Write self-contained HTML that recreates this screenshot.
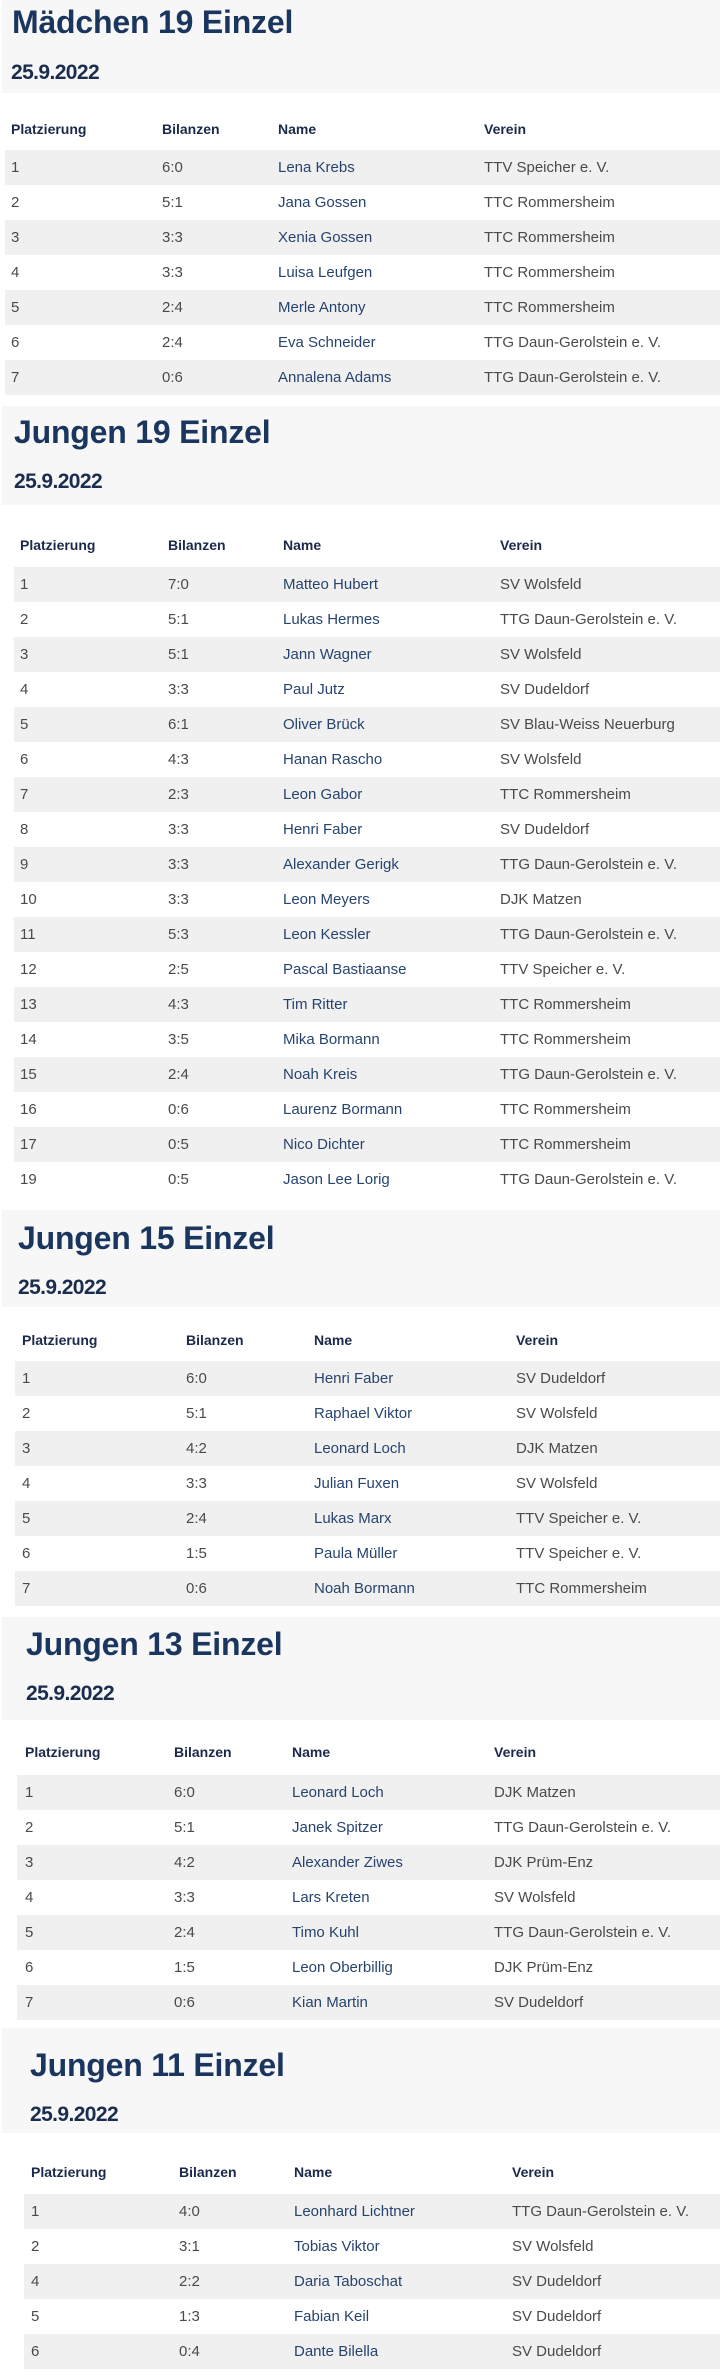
<!DOCTYPE html>
<html><head><meta charset="utf-8"><style>
*{margin:0;padding:0;box-sizing:border-box}
body{width:720px;height:2380px;background:#fff;position:relative;overflow:hidden;font-family:"Liberation Sans",sans-serif}
.box{position:absolute;left:2px;right:0;background:#f7f7f7}
.t{position:absolute;font-weight:bold;color:#1a355e;font-size:32px;line-height:40px;height:40px;letter-spacing:-0.2px;white-space:nowrap}
.d{position:absolute;font-weight:bold;color:#1a2d4f;font-size:21px;line-height:26px;height:26px;letter-spacing:-0.6px}
.r{position:absolute;right:0;height:35px;line-height:35px;font-size:15px;color:#4a4a4a;white-space:nowrap}
.r.s{background:#f0f0f0}
.r span{position:absolute;top:0}
.r .n{color:#27446f}
.h{font-weight:bold;color:#1b2a4a;font-size:14px}
.h .n{color:#1b2a4a}
</style></head><body>

<!-- S1 -->
<div class="box" style="top:0;height:93px"></div>
<div class="t" style="left:12px;top:2px">Mädchen 19 Einzel</div>
<div class="d" style="left:11px;top:60px">25.9.2022</div>
<div style="position:absolute;left:0;top:0;width:720px">
<div class="r h" style="left:5px;top:112px"><span style="left:6px">Platzierung</span><span style="left:157px">Bilanzen</span><span class="n" style="left:273px">Name</span><span style="left:479px">Verein</span></div>
<div class="r s" style="left:5px;top:150px"><span style="left:6px">1</span><span style="left:157px">6:0</span><span class="n" style="left:273px">Lena Krebs</span><span style="left:479px">TTV Speicher e. V.</span></div>
<div class="r" style="left:5px;top:185px"><span style="left:6px">2</span><span style="left:157px">5:1</span><span class="n" style="left:273px">Jana Gossen</span><span style="left:479px">TTC Rommersheim</span></div>
<div class="r s" style="left:5px;top:220px"><span style="left:6px">3</span><span style="left:157px">3:3</span><span class="n" style="left:273px">Xenia Gossen</span><span style="left:479px">TTC Rommersheim</span></div>
<div class="r" style="left:5px;top:255px"><span style="left:6px">4</span><span style="left:157px">3:3</span><span class="n" style="left:273px">Luisa Leufgen</span><span style="left:479px">TTC Rommersheim</span></div>
<div class="r s" style="left:5px;top:290px"><span style="left:6px">5</span><span style="left:157px">2:4</span><span class="n" style="left:273px">Merle Antony</span><span style="left:479px">TTC Rommersheim</span></div>
<div class="r" style="left:5px;top:325px"><span style="left:6px">6</span><span style="left:157px">2:4</span><span class="n" style="left:273px">Eva Schneider</span><span style="left:479px">TTG Daun-Gerolstein e. V.</span></div>
<div class="r s" style="left:5px;top:360px"><span style="left:6px">7</span><span style="left:157px">0:6</span><span class="n" style="left:273px">Annalena Adams</span><span style="left:479px">TTG Daun-Gerolstein e. V.</span></div>
</div>

<!-- S2 -->
<div class="box" style="top:406px;height:99px"></div>
<div class="t" style="left:14px;top:412px">Jungen 19 Einzel</div>
<div class="d" style="left:14px;top:469px">25.9.2022</div>
<div class="r h" style="left:14px;top:528px"><span style="left:6px">Platzierung</span><span style="left:154px">Bilanzen</span><span class="n" style="left:269px">Name</span><span style="left:486px">Verein</span></div>
<div class="r s" style="left:14px;top:567px"><span style="left:6px">1</span><span style="left:154px">7:0</span><span class="n" style="left:269px">Matteo Hubert</span><span style="left:486px">SV Wolsfeld</span></div>
<div class="r" style="left:14px;top:602px"><span style="left:6px">2</span><span style="left:154px">5:1</span><span class="n" style="left:269px">Lukas Hermes</span><span style="left:486px">TTG Daun-Gerolstein e. V.</span></div>
<div class="r s" style="left:14px;top:637px"><span style="left:6px">3</span><span style="left:154px">5:1</span><span class="n" style="left:269px">Jann Wagner</span><span style="left:486px">SV Wolsfeld</span></div>
<div class="r" style="left:14px;top:672px"><span style="left:6px">4</span><span style="left:154px">3:3</span><span class="n" style="left:269px">Paul Jutz</span><span style="left:486px">SV Dudeldorf</span></div>
<div class="r s" style="left:14px;top:707px"><span style="left:6px">5</span><span style="left:154px">6:1</span><span class="n" style="left:269px">Oliver Brück</span><span style="left:486px">SV Blau-Weiss Neuerburg</span></div>
<div class="r" style="left:14px;top:742px"><span style="left:6px">6</span><span style="left:154px">4:3</span><span class="n" style="left:269px">Hanan Rascho</span><span style="left:486px">SV Wolsfeld</span></div>
<div class="r s" style="left:14px;top:777px"><span style="left:6px">7</span><span style="left:154px">2:3</span><span class="n" style="left:269px">Leon Gabor</span><span style="left:486px">TTC Rommersheim</span></div>
<div class="r" style="left:14px;top:812px"><span style="left:6px">8</span><span style="left:154px">3:3</span><span class="n" style="left:269px">Henri Faber</span><span style="left:486px">SV Dudeldorf</span></div>
<div class="r s" style="left:14px;top:847px"><span style="left:6px">9</span><span style="left:154px">3:3</span><span class="n" style="left:269px">Alexander Gerigk</span><span style="left:486px">TTG Daun-Gerolstein e. V.</span></div>
<div class="r" style="left:14px;top:882px"><span style="left:6px">10</span><span style="left:154px">3:3</span><span class="n" style="left:269px">Leon Meyers</span><span style="left:486px">DJK Matzen</span></div>
<div class="r s" style="left:14px;top:917px"><span style="left:6px">11</span><span style="left:154px">5:3</span><span class="n" style="left:269px">Leon Kessler</span><span style="left:486px">TTG Daun-Gerolstein e. V.</span></div>
<div class="r" style="left:14px;top:952px"><span style="left:6px">12</span><span style="left:154px">2:5</span><span class="n" style="left:269px">Pascal Bastiaanse</span><span style="left:486px">TTV Speicher e. V.</span></div>
<div class="r s" style="left:14px;top:987px"><span style="left:6px">13</span><span style="left:154px">4:3</span><span class="n" style="left:269px">Tim Ritter</span><span style="left:486px">TTC Rommersheim</span></div>
<div class="r" style="left:14px;top:1022px"><span style="left:6px">14</span><span style="left:154px">3:5</span><span class="n" style="left:269px">Mika Bormann</span><span style="left:486px">TTC Rommersheim</span></div>
<div class="r s" style="left:14px;top:1057px"><span style="left:6px">15</span><span style="left:154px">2:4</span><span class="n" style="left:269px">Noah Kreis</span><span style="left:486px">TTG Daun-Gerolstein e. V.</span></div>
<div class="r" style="left:14px;top:1092px"><span style="left:6px">16</span><span style="left:154px">0:6</span><span class="n" style="left:269px">Laurenz Bormann</span><span style="left:486px">TTC Rommersheim</span></div>
<div class="r s" style="left:14px;top:1127px"><span style="left:6px">17</span><span style="left:154px">0:5</span><span class="n" style="left:269px">Nico Dichter</span><span style="left:486px">TTC Rommersheim</span></div>
<div class="r" style="left:14px;top:1162px"><span style="left:6px">19</span><span style="left:154px">0:5</span><span class="n" style="left:269px">Jason Lee Lorig</span><span style="left:486px">TTG Daun-Gerolstein e. V.</span></div>

<!-- S3 -->
<div class="box" style="top:1210px;height:97px"></div>
<div class="t" style="left:18px;top:1218px">Jungen 15 Einzel</div>
<div class="d" style="left:18px;top:1275px">25.9.2022</div>
<div class="r h" style="left:15px;top:1323px"><span style="left:7px">Platzierung</span><span style="left:171px">Bilanzen</span><span class="n" style="left:299px">Name</span><span style="left:501px">Verein</span></div>
<div class="r s" style="left:15px;top:1361px"><span style="left:7px">1</span><span style="left:171px">6:0</span><span class="n" style="left:299px">Henri Faber</span><span style="left:501px">SV Dudeldorf</span></div>
<div class="r" style="left:15px;top:1396px"><span style="left:7px">2</span><span style="left:171px">5:1</span><span class="n" style="left:299px">Raphael Viktor</span><span style="left:501px">SV Wolsfeld</span></div>
<div class="r s" style="left:15px;top:1431px"><span style="left:7px">3</span><span style="left:171px">4:2</span><span class="n" style="left:299px">Leonard Loch</span><span style="left:501px">DJK Matzen</span></div>
<div class="r" style="left:15px;top:1466px"><span style="left:7px">4</span><span style="left:171px">3:3</span><span class="n" style="left:299px">Julian Fuxen</span><span style="left:501px">SV Wolsfeld</span></div>
<div class="r s" style="left:15px;top:1501px"><span style="left:7px">5</span><span style="left:171px">2:4</span><span class="n" style="left:299px">Lukas Marx</span><span style="left:501px">TTV Speicher e. V.</span></div>
<div class="r" style="left:15px;top:1536px"><span style="left:7px">6</span><span style="left:171px">1:5</span><span class="n" style="left:299px">Paula Müller</span><span style="left:501px">TTV Speicher e. V.</span></div>
<div class="r s" style="left:15px;top:1571px"><span style="left:7px">7</span><span style="left:171px">0:6</span><span class="n" style="left:299px">Noah Bormann</span><span style="left:501px">TTC Rommersheim</span></div>

<!-- S4 -->
<div class="box" style="top:1617px;height:103px"></div>
<div class="t" style="left:26px;top:1624px">Jungen 13 Einzel</div>
<div class="d" style="left:26px;top:1681px">25.9.2022</div>
<div class="r h" style="left:17px;top:1735px"><span style="left:8px">Platzierung</span><span style="left:157px">Bilanzen</span><span class="n" style="left:275px">Name</span><span style="left:477px">Verein</span></div>
<div class="r s" style="left:17px;top:1775px"><span style="left:8px">1</span><span style="left:157px">6:0</span><span class="n" style="left:275px">Leonard Loch</span><span style="left:477px">DJK Matzen</span></div>
<div class="r" style="left:17px;top:1810px"><span style="left:8px">2</span><span style="left:157px">5:1</span><span class="n" style="left:275px">Janek Spitzer</span><span style="left:477px">TTG Daun-Gerolstein e. V.</span></div>
<div class="r s" style="left:17px;top:1845px"><span style="left:8px">3</span><span style="left:157px">4:2</span><span class="n" style="left:275px">Alexander Ziwes</span><span style="left:477px">DJK Prüm-Enz</span></div>
<div class="r" style="left:17px;top:1880px"><span style="left:8px">4</span><span style="left:157px">3:3</span><span class="n" style="left:275px">Lars Kreten</span><span style="left:477px">SV Wolsfeld</span></div>
<div class="r s" style="left:17px;top:1915px"><span style="left:8px">5</span><span style="left:157px">2:4</span><span class="n" style="left:275px">Timo Kuhl</span><span style="left:477px">TTG Daun-Gerolstein e. V.</span></div>
<div class="r" style="left:17px;top:1950px"><span style="left:8px">6</span><span style="left:157px">1:5</span><span class="n" style="left:275px">Leon Oberbillig</span><span style="left:477px">DJK Prüm-Enz</span></div>
<div class="r s" style="left:17px;top:1985px"><span style="left:8px">7</span><span style="left:157px">0:6</span><span class="n" style="left:275px">Kian Martin</span><span style="left:477px">SV Dudeldorf</span></div>

<!-- S5 -->
<div class="box" style="top:2028px;height:105px"></div>
<div class="t" style="left:30px;top:2045px">Jungen 11 Einzel</div>
<div class="d" style="left:30px;top:2102px">25.9.2022</div>
<div class="r h" style="left:24px;top:2155px"><span style="left:7px">Platzierung</span><span style="left:155px">Bilanzen</span><span class="n" style="left:270px">Name</span><span style="left:488px">Verein</span></div>
<div class="r s" style="left:24px;top:2194px"><span style="left:7px">1</span><span style="left:155px">4:0</span><span class="n" style="left:270px">Leonhard Lichtner</span><span style="left:488px">TTG Daun-Gerolstein e. V.</span></div>
<div class="r" style="left:24px;top:2229px"><span style="left:7px">2</span><span style="left:155px">3:1</span><span class="n" style="left:270px">Tobias Viktor</span><span style="left:488px">SV Wolsfeld</span></div>
<div class="r s" style="left:24px;top:2264px"><span style="left:7px">4</span><span style="left:155px">2:2</span><span class="n" style="left:270px">Daria Taboschat</span><span style="left:488px">SV Dudeldorf</span></div>
<div class="r" style="left:24px;top:2299px"><span style="left:7px">5</span><span style="left:155px">1:3</span><span class="n" style="left:270px">Fabian Keil</span><span style="left:488px">SV Dudeldorf</span></div>
<div class="r s" style="left:24px;top:2334px"><span style="left:7px">6</span><span style="left:155px">0:4</span><span class="n" style="left:270px">Dante Bilella</span><span style="left:488px">SV Dudeldorf</span></div>

</body></html>
